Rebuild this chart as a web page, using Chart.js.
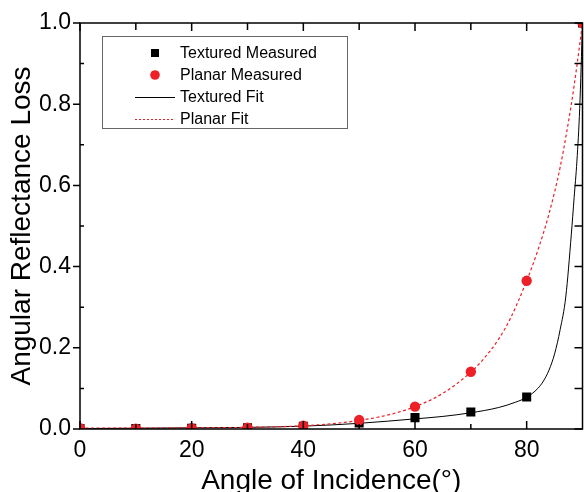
<!DOCTYPE html>
<html>
<head>
<meta charset="utf-8">
<script src="https://cdn.jsdelivr.net/npm/chart.js@4.4.1/dist/chart.umd.min.js"></script>
<style>
html,body{margin:0;padding:0;background:#fff;}
#wrap{width:584px;height:492px;position:relative;}
</style>
</head>
<body>
<div id="wrap"><canvas id="c" width="584" height="492"></canvas></div>
<script>
// ---- data ----
const measuredAngles = [0, 10, 20, 30, 40, 50, 60, 70, 80, 90];
const texturedMeasured = [0.001, 0.001, 0.002, 0.003, 0.007, 0.015, 0.028, 0.042, 0.079, 1.0];
const planarMeasured = [0.002, 0.001, 0.002, 0.003, 0.008, 0.022, 0.055, 0.141, 0.365, 1.0];

const texturedFitAngles = [0, 10, 20, 30, 40, 50, 60, 65, 70, 75, 78, 80, 82, 83, 84, 85, 86, 87, 88, 88.5, 89, 89.5, 90];
const texturedFitValues = [0.001, 0.002, 0.003, 0.004, 0.007, 0.014, 0.025, 0.031, 0.040, 0.053, 0.066, 0.078, 0.100, 0.118, 0.145, 0.185, 0.245, 0.325, 0.48, 0.57, 0.66, 0.79, 1.0];

const planarFitAngles = [0, 10, 20, 30, 40, 45, 50, 55, 60, 65, 70, 72, 75, 77, 80, 82, 84, 86, 88, 89, 90];
const planarFitValues = [0.002, 0.002, 0.003, 0.004, 0.008, 0.013, 0.021, 0.034, 0.055, 0.088, 0.140, 0.168, 0.222, 0.27, 0.365, 0.44, 0.53, 0.645, 0.80, 0.895, 1.0];

const xTicks = [0, 20, 40, 60, 80];
const xMinorTicks = [10, 30, 50, 70];
const yTicks = [0, 0.2, 0.4, 0.6, 0.8, 1.0];
const yMinorTicks = [0.1, 0.3, 0.5, 0.7, 0.9];

const seriesNames = ['Textured Measured', 'Planar Measured', 'Textured Fit', 'Planar Fit'];

const RED = 'rgb(236,32,38)';
const FONT = '"Liberation Sans", Arial, sans-serif';

function pts(xs, ys) { return xs.map((x, i) => ({x: x, y: ys[i]})); }

const framePlugin = {
  id: 'frameTicks',
  afterDatasetsDraw(chart) {
    const {ctx, chartArea: a, scales} = chart;
    const xs = scales.x, ys = scales.y;
    ctx.save();
    ctx.strokeStyle = '#000';
    ctx.lineWidth = 1.5;
    ctx.strokeRect(a.left, a.top, a.right - a.left, a.bottom - a.top);
    ctx.beginPath();
    xTicks.concat(xMinorTicks).forEach(v => {
      const px = xs.getPixelForValue(v);
      const major = xTicks.includes(v);
      ctx.moveTo(px, a.bottom); ctx.lineTo(px, a.bottom - (major ? 8 : 5));
      ctx.moveTo(px, a.top); ctx.lineTo(px, a.top + (major ? 8 : 7));
    });
    yTicks.concat(yMinorTicks).forEach(v => {
      const py = ys.getPixelForValue(v);
      const major = yTicks.includes(v);
      if (major) { ctx.moveTo(a.left, py); ctx.lineTo(a.left - 7, py); }
      else { ctx.moveTo(a.left, py); ctx.lineTo(a.left + 4, py); }
      ctx.moveTo(a.right, py); ctx.lineTo(a.right - 8, py);
    });
    ctx.stroke();
    ctx.restore();
  }
};

const legendPlugin = {
  id: 'boxLegend',
  afterDraw(chart) {
    const ctx = chart.ctx;
    const bx = 102.5, by = 36.5, bw = 245, bh = 92;
    ctx.save();
    ctx.fillStyle = '#fff';
    ctx.fillRect(bx, by, bw, bh);
    ctx.strokeStyle = '#666';
    ctx.lineWidth = 1;
    ctx.strokeRect(bx, by, bw, bh);
    const rows = [53, 75, 97, 119];
    const mx = 155, tx = 180;
    ctx.fillStyle = '#000';
    ctx.fillRect(mx - 4, rows[0] - 4, 8, 8);
    ctx.fillStyle = RED;
    ctx.beginPath(); ctx.arc(mx, rows[1], 4.8, 0, Math.PI * 2); ctx.fill();
    ctx.strokeStyle = '#000'; ctx.lineWidth = 1;
    ctx.beginPath(); ctx.moveTo(135, rows[2] + 0.5); ctx.lineTo(175, rows[2] + 0.5); ctx.stroke();
    ctx.strokeStyle = RED; ctx.setLineDash([2, 2]);
    ctx.beginPath(); ctx.moveTo(135, rows[3] + 0.5); ctx.lineTo(175, rows[3] + 0.5); ctx.stroke();
    ctx.setLineDash([]);
    ctx.fillStyle = '#000';
    ctx.font = '16px ' + FONT;
    ctx.textBaseline = 'middle';
    ctx.textAlign = 'left';
    seriesNames.forEach((n, i) => ctx.fillText(n, tx, rows[i] + 1));
    ctx.restore();
  }
};

new Chart(document.getElementById('c'), {
  type: 'scatter',
  data: {
    datasets: [
      {
        label: seriesNames[1], data: pts(measuredAngles, planarMeasured),
        pointStyle: 'circle', pointRadius: 5.2, pointBorderWidth: 0,
        backgroundColor: RED, borderColor: RED, showLine: false, order: 0, clip: 0
      },
      {
        label: seriesNames[0], data: pts(measuredAngles, texturedMeasured),
        pointStyle: 'rect', pointRadius: 6.4, pointBorderWidth: 0,
        backgroundColor: '#000', borderColor: '#000', showLine: false, order: 1, clip: 0
      },
      {
        label: seriesNames[3], data: pts(planarFitAngles, planarFitValues),
        showLine: true, pointRadius: 0, borderColor: RED, borderWidth: 1.2,
        borderDash: [3, 2.5], cubicInterpolationMode: 'monotone', order: 2, clip: 0
      },
      {
        label: seriesNames[2], data: pts(texturedFitAngles, texturedFitValues),
        showLine: true, pointRadius: 0, borderColor: '#000', borderWidth: 1,
        cubicInterpolationMode: 'monotone', order: 3, clip: 0
      }
    ]
  },
  options: {
    responsive: false,
    animation: false,
    events: [],
    layout: { autoPadding: false, padding: { top: 23, right: 1.5, left: 0, bottom: 0 } },
    plugins: { legend: { display: false }, tooltip: { enabled: false } },
    scales: {
      x: {
        type: 'linear', min: 0, max: 90,
        grid: { display: false, drawTicks: false },
        border: { display: false },
        afterBuildTicks: s => { s.ticks = xTicks.map(v => ({value: v})); },
        afterFit: s => { s.height = 63; s.paddingLeft = 0; s.paddingRight = 0; },
        ticks: { color: '#000', font: { family: FONT, size: 23 }, padding: 8, maxRotation: 0, autoSkip: false },
        title: { display: true, text: 'Angle of Incidence(°)', color: '#000',
                 font: { family: FONT, size: 28, lineHeight: 1 }, padding: { top: 0, bottom: -3 } }
      },
      y: {
        type: 'linear', min: 0, max: 1,
        grid: { display: false, drawTicks: false },
        border: { display: false },
        afterBuildTicks: s => { s.ticks = yTicks.map(v => ({value: v})); },
        afterFit: s => { s.width = 80; s.paddingTop = 0; s.paddingBottom = 0; },
        ticks: { color: '#000', font: { family: FONT, size: 23 }, padding: 9,
                 callback: v => Number(v).toFixed(1) },
        title: { display: true, text: 'Angular Reflectance Loss', color: '#000',
                 font: { family: FONT, size: 28, lineHeight: 1.2 }, padding: { top: 5, bottom: 0 } }
      }
    }
  },
  plugins: [framePlugin, legendPlugin]
});
</script>
</body>
</html>
